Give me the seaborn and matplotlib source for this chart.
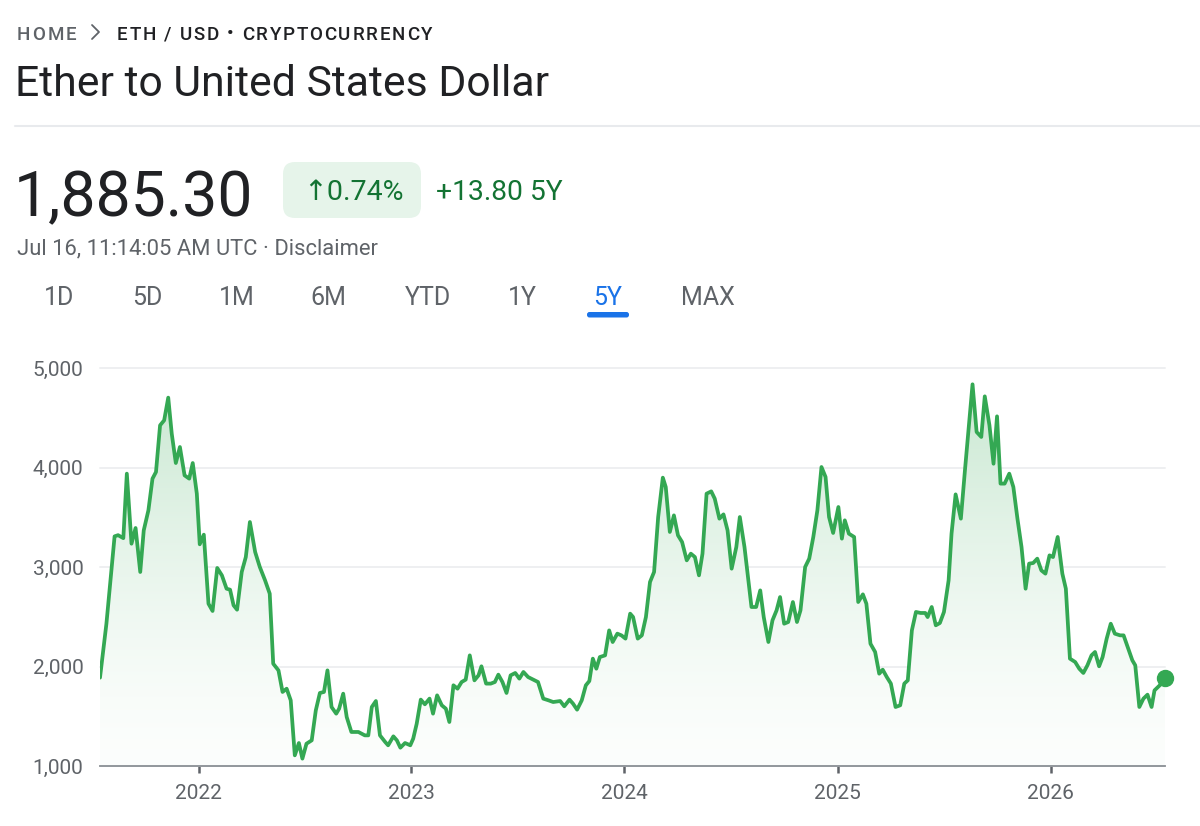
import numpy as np
import pandas as pd
import matplotlib
matplotlib.use("Agg")
import matplotlib.pyplot as plt
import matplotlib.dates as mdates
from matplotlib.patches import FancyBboxPatch
import seaborn as sns

# ---------------- data ----------------
start_date = "2021-07-16"
days = [0, 11, 25, 31, 40, 46, 54, 61, 69, 75,
        83, 90, 96, 103, 110, 117, 123, 130, 137, 145,
        153, 159, 166, 171, 178, 186, 193, 201, 209, 217,
        223, 229, 235, 243, 250, 257, 266, 274, 283, 291,
        297, 306, 313, 320, 327, 334, 341, 347, 354, 363,
        370, 377, 384, 390, 397, 405, 410, 417, 423, 431,
        443, 454, 460, 466, 473, 480, 489, 494, 503, 509,
        515, 523, 532, 537, 543, 550, 557, 565, 571, 578,
        586, 593, 599, 606, 613, 620, 627, 634, 642, 649,
        654, 662, 670, 677, 683, 690, 697, 704, 712, 719,
        726, 734, 743, 751, 760, 769, 777, 789, 796, 805,
        811, 818, 826, 833, 839, 845, 851, 857, 866, 873,
        879, 887, 894, 901, 909, 914, 922, 929, 936, 943,
        950, 957, 965, 970, 977, 984, 991, 998, 1006, 1013,
        1020, 1027, 1033, 1040, 1048, 1054, 1062, 1069, 1076, 1083,
        1091, 1097, 1105, 1111, 1117, 1125, 1132, 1138, 1146, 1153,
        1160, 1166, 1173, 1180, 1188, 1195, 1201, 1209, 1216, 1223,
        1230, 1237, 1244, 1250, 1257, 1266, 1272, 1277, 1284, 1293,
        1300, 1308, 1314, 1321, 1329, 1336, 1342, 1349, 1356, 1364,
        1372, 1379, 1385, 1392, 1399, 1407, 1415, 1419, 1426, 1433,
        1440, 1447, 1455, 1460, 1467, 1476, 1483, 1490, 1496, 1503,
        1511, 1517, 1525, 1532, 1538, 1544, 1551, 1559, 1566, 1573,
        1580, 1587, 1593, 1600, 1607, 1614, 1621, 1628, 1634, 1642,
        1650, 1656, 1663, 1672, 1679, 1686, 1693, 1700, 1706, 1713,
        1719, 1726, 1733, 1740, 1749, 1755, 1762, 1770, 1775, 1782,
        1789, 1796, 1803, 1808, 1814, 1820, 1826]
prices = [1888, 2430, 3308, 3320, 3290, 3938, 3234, 3392, 2950, 3368,
          3570, 3888, 3955, 4424, 4474, 4702, 4340, 4045, 4206, 3921,
          3888, 4045, 3737, 3228, 3325, 2631, 2558, 2990, 2916, 2782,
          2772, 2615, 2571, 2950, 3100, 3452, 3151, 3000, 2866, 2732,
          2028, 1961, 1744, 1777, 1660, 1107, 1231, 1074, 1224, 1258,
          1559, 1734, 1744, 1961, 1593, 1526, 1576, 1727, 1492, 1342,
          1342, 1308, 1308, 1593, 1653, 1308, 1241, 1208, 1298, 1258,
          1184, 1231, 1208, 1275, 1425, 1667, 1620, 1677, 1526, 1710,
          1610, 1576, 1442, 1811, 1777, 1844, 1868, 2112, 1861, 1911,
          2002, 1828, 1828, 1844, 1918, 1844, 1734, 1911, 1935, 1878,
          1945, 1894, 1868, 1844, 1677, 1660, 1643, 1653, 1600, 1667,
          1627, 1566, 1660, 1811, 1854, 2079, 1978, 2095, 2112, 2363,
          2246, 2330, 2313, 2280, 2531, 2497, 2280, 2313, 2497, 2849,
          2950, 3502, 3898, 3804, 3352, 3519, 3318, 3251, 3067, 3134,
          3100, 2916, 3134, 3737, 3760, 3687, 3486, 3529, 3368, 2983,
          3201, 3502, 3201, 2899, 2598, 2598, 2765, 2497, 2246, 2464,
          2564, 2698, 2430, 2447, 2648, 2447, 2564, 3000, 3084, 3302,
          3570, 4005, 3905, 3502, 3342, 3603, 3285, 3469, 3335, 3302,
          2648, 2725, 2631, 2229, 2146, 1928, 1968, 1894, 1828, 1593,
          1610, 1828, 1861, 2363, 2548, 2538, 2538, 2497, 2598, 2414,
          2437, 2548, 2866, 3335, 3730, 3486, 3972, 4440, 4836, 4357,
          4307, 4715, 4424, 4038, 4514, 3838, 3838, 3938, 3804, 3486,
          3201, 2782, 3034, 3040, 3084, 2966, 2933, 3117, 3100, 3302,
          2933, 2782, 2079, 2045, 1978, 1935, 2012, 2112, 2146, 2002,
          2095, 2280, 2430, 2330, 2313, 2313, 2196, 2062, 2012, 1593,
          1677, 1717, 1593, 1760, 1794, 1828, 1885]

year_ticks = ["2022-01-01", "2023-01-01", "2024-01-01", "2025-01-01", "2026-01-01"]
year_labels = ["2022", "2023", "2024", "2025", "2026"]
y_ticks = [1000, 2000, 3000, 4000, 5000]
y_tick_labels = ["1,000", "2,000", "3,000", "4,000", "5,000"]
range_tabs = ["1D", "5D", "1M", "6M", "YTD", "1Y", "5Y", "MAX"]
selected_tab = "5Y"

breadcrumb_home = "HOME"
breadcrumb_rest = "ETH / USD \u2022 CRYPTOCURRENCY"
title = "Ether to United States Dollar"
last_price = "1,885.30"
pct_change = "\u21910.74%"
abs_change = "+13.80 5Y"
timestamp = "Jul 16, 11:14:05 AM UTC \u00b7 Disclaimer"

# ---------------- style ----------------
GREEN = "#34a853"
DARK = "#202124"
GRAY = "#5f6368"
TXT_GREEN = "#137333"
BLUE = "#1a73e8"

sns.set_theme(style="white")
plt.rcParams["font.family"] = ["Roboto", "DejaVu Sans"]

W, H = 1200, 826
fig = plt.figure(figsize=(12, 8.26), dpi=100)
fig.patch.set_facecolor("white")

# overlay axes in pixel coordinates for header elements
bg = fig.add_axes([0, 0, 1, 1])
bg.set_xlim(0, W)
bg.set_ylim(H, 0)
bg.axis("off")

renderer = fig.canvas.get_renderer()


def spaced(x, y, s, spacing, **kw):
    fs = kw.get("fontsize", 12)
    for ch in s:
        if ch == " ":
            x += fs * 100 / 72 * 0.25 + spacing
            continue
        t = bg.text(x, y, ch, ha="left", va="baseline", **kw)
        bb = t.get_window_extent(renderer)
        x += bb.width + spacing
    return x


spaced(17, 39.5, breadcrumb_home, 2.0, fontsize=13.5, color=GRAY, fontweight="medium")
bg.plot([92, 99, 92], [25, 32, 39], color=GRAY, lw=1.3, solid_capstyle="round")
spaced(117, 39.5, breadcrumb_rest, 1.75, fontsize=13.5, color=DARK, fontweight="medium")

bg.text(15, 96, title, fontsize=30.8, color=DARK, va="baseline", ha="left")
bg.plot([15, 1200], [126, 126], color="#e8eaed", lw=1.5)

bg.text(14, 216, last_price, fontsize=45, color=DARK, va="baseline", ha="left")
bg.add_patch(FancyBboxPatch((283, 162), 138, 56,
                            boxstyle="round,pad=0,rounding_size=12",
                            fc="#e6f4ea", ec="none"))
bg.text(353, 200, pct_change, fontsize=20.5, color=TXT_GREEN, va="baseline", ha="center")
bg.text(436, 200, abs_change, fontsize=20.3, color=TXT_GREEN, va="baseline", ha="left")
bg.text(17, 254, timestamp, fontsize=15.8, color=GRAY, va="baseline", ha="left")

tab_x = [59, 147, 237, 328, 428, 522, 608, 708]
for lab, cx in zip(range_tabs, tab_x):
    bg.text(cx, 305, lab, fontsize=18, ha="center", va="baseline",
            color=BLUE if lab == selected_tab else GRAY)
    if lab == selected_tab:
        bg.add_patch(FancyBboxPatch((cx - 21, 312), 42, 5.5,
                                    boxstyle="round,pad=0,rounding_size=2.5",
                                    fc=BLUE, ec="none"))

# ---------------- chart ----------------
ax = fig.add_axes([100 / W, 1 - 766 / H, 1065 / W, 398 / H])
ax.set_facecolor("white")

df = pd.DataFrame({
    "date": pd.Timestamp(start_date) + pd.to_timedelta(days, unit="D"),
    "price": prices,
})

sns.lineplot(data=df, x="date", y="price", ax=ax, color=GREEN,
             linewidth=2.7, estimator=None, zorder=4)
for ln in ax.lines:
    ln.set_solid_joinstyle("round")
    ln.set_solid_capstyle("round")

# gradient fill under the line
poly = ax.fill_between(df["date"], df["price"], 1000, color="none", lw=0)
xnum = mdates.date2num(df["date"])
t = np.linspace(1, 0, 1000)
alpha = 0.015 + 0.27 * t ** 1.5
g = np.array(matplotlib.colors.to_rgb(GREEN))
rgb = 1 - alpha[:, None] * (1 - g[None, :])
img = ax.imshow(rgb[:, None, :], extent=[xnum[0], xnum[-1], 1000, 5000],
                aspect="auto", origin="upper", zorder=2, interpolation="bilinear")
img.set_clip_path(poly.get_paths()[0], ax.transData)

ax.plot(df["date"].iloc[-1], df["price"].iloc[-1], "o", ms=11.5, color=GREEN,
        clip_on=False, zorder=6)

ax.set_xlim(pd.Timestamp(start_date), pd.Timestamp(start_date) + pd.Timedelta(days=1826))
ax.set_ylim(1000, 5000)

ax.set_axisbelow(True)
ax.yaxis.grid(True, color="#eeeff1", lw=1.4)
ax.xaxis.grid(False)
for gl in ax.get_ygridlines():
    gl.set_clip_on(False)

for side in ["top", "left", "right"]:
    ax.spines[side].set_visible(False)
ax.spines["bottom"].set_color("#8a8f94")
ax.spines["bottom"].set_linewidth(1.3)
ax.spines["bottom"].set_zorder(5)

ax.set_xticks(pd.to_datetime(year_ticks))
ax.set_xticklabels(year_labels)
ax.set_yticks(y_ticks)
ax.set_yticklabels(y_tick_labels)
ax.tick_params(axis="x", bottom=True, length=5, width=1.8, color="#5f6368",
               direction="out", pad=8, labelsize=15, labelcolor=GRAY)
ax.tick_params(axis="y", left=False, length=0, pad=12, labelsize=15, labelcolor=GRAY)
ax.set_xlabel("")
ax.set_ylabel("")

fig.savefig("out.png", dpi=100, facecolor="white")
